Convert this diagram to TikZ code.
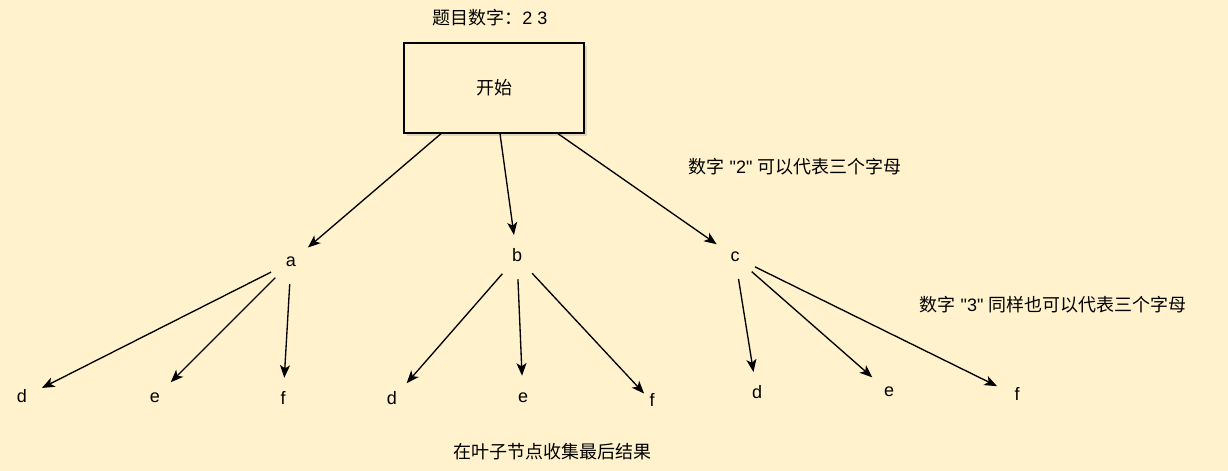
\documentclass[tikz,border=0pt]{standalone}
\usepackage{fontspec}
\setmainfont{Liberation Sans}
\newfontfamily\plain{Liberation Sans}
\newfontfamily\cjk{Noto Sans CJK SC}
\usetikzlibrary{arrows.meta,shadows}
\definecolor{paper}{HTML}{FFF2CC}

\begin{document}
\begin{tikzpicture}[
    x=0.75pt, y=-0.75pt,
    font=\fontsize{13.5pt}{16pt}\selectfont,
    startbox/.style={rectangle, draw, fill=paper, line width=1pt, minimum width=135pt, minimum height=67.5pt,
        drop shadow={opacity=0.25, shadow xshift=2pt, shadow yshift=-2pt}},
    letter/.style={circle, inner sep=0pt, minimum size=33pt, text height=10pt, text depth=3pt},
    note/.style={inner sep=0pt, font=\fontsize{13.5pt}{16pt}\plain},
    arrow/.style={-{Stealth[length=9.5pt, width=7.5pt, inset=2.5pt]}, line width=1pt}
]
    \fill[paper] (0,0) rectangle (1228,471);

    \node[note] (title) at (490,18) {\cjk 题目数字：\plain 2 3};
    \node[startbox] (start) at (494,88) {\cjk 开始};

    \node[letter] (a) at (291,262) {a};
    \node[letter] (b) at (517,257) {b};
    \node[letter] (c) at (735,257) {c};

    \node[letter] (ad) at (22,398) {d};
    \node[letter] (ae) at (155,398) {e};
    \node[letter] (af) at (283,400) {f};
    \node[letter] (bd) at (392,400) {d};
    \node[letter] (be) at (523,398) {e};
    \node[letter] (bf) at (652,402) {f};
    \node[letter] (cd) at (757,394) {d};
    \node[letter] (ce) at (889,392) {e};
    \node[letter] (cf) at (1017,396) {f};

    \node[note] (two) at (795,167) {{\cjk 数字} "2" {\cjk 可以代表三个字母}};
    \node[note] (three) at (1053,305) {{\cjk 数字} "3" {\cjk 同样也可以代表三个字母}};
    \node[note] (leaves) at (552,452) {\cjk 在叶子节点收集最后结果};

    \draw[arrow] ([xshift=-39.75pt]start.south) -- (a);
    \draw[arrow] ([xshift=4.5pt]start.south) -- (b);
    \draw[arrow] ([xshift=48pt]start.south) -- (c);

    \draw[arrow] (a) -- (ad);
    \draw[arrow] (a) -- (ae);
    \draw[arrow] (a) -- (af);
    \draw[arrow] (b) -- (bd);
    \draw[arrow] (b) -- (be);
    \draw[arrow, shorten >=-8pt] (b) -- (bf);
    \draw[arrow] (c) -- (cd);
    \draw[arrow] (c) -- (ce);
    \draw[arrow] (c) -- (cf);
\end{tikzpicture}
\end{document}
